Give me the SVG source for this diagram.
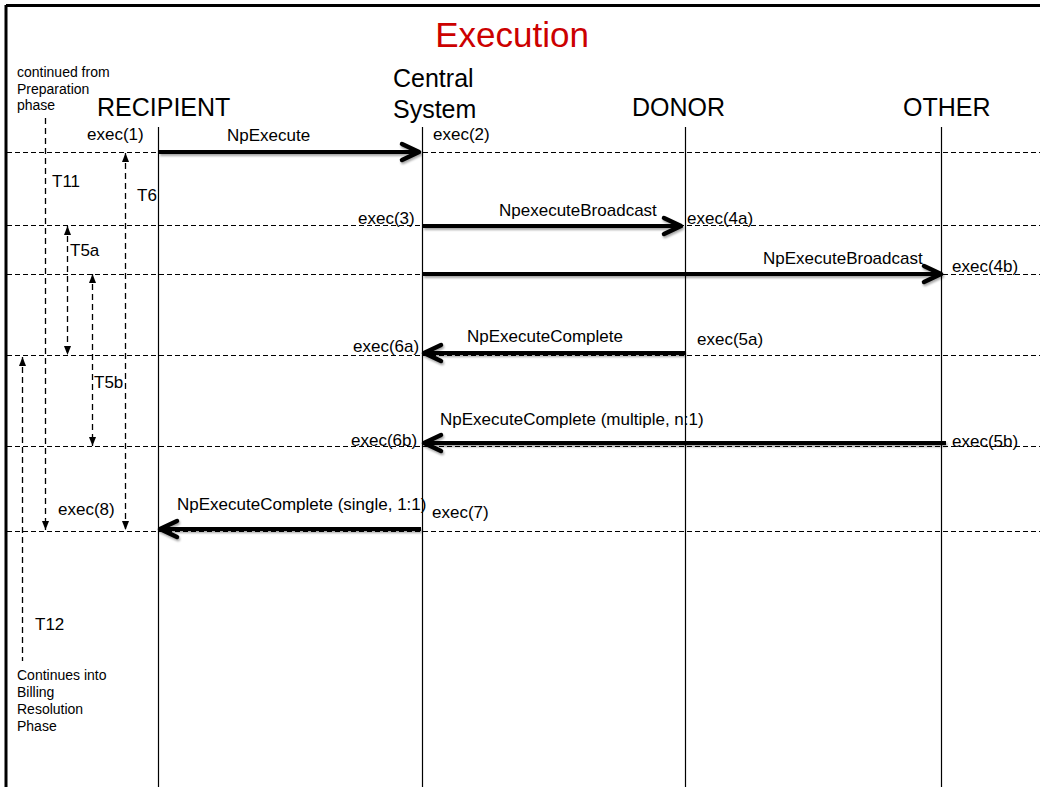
<svg xmlns="http://www.w3.org/2000/svg" width="1040" height="787" viewBox="0 0 1040 787">
<style>
text{font-family:"Liberation Sans",Arial,sans-serif;fill:#000}
.title{font-size:35px;fill:#cc0000}
.actor{font-size:25px}
.lbl{font-size:17px}
.small{font-size:14px}
.life{stroke:#000;stroke-width:1.2;fill:none}
.hdash{stroke:#000;stroke-width:1;stroke-dasharray:5 3;fill:none}
.vdash{stroke:#000;stroke-width:1.3;stroke-dasharray:6 4;fill:none}
.msg{stroke:#000;stroke-width:4;fill:none;marker-end:url(#chev)}
</style>
<defs>
<marker id="chev" markerUnits="userSpaceOnUse" markerWidth="30" markerHeight="30" viewBox="-24 -15 30 30" refX="0" refY="0" orient="auto" overflow="visible">
<path d="M-17,-8 L0,0 L-17,8" fill="none" stroke="#000" stroke-width="4.5" stroke-linecap="round" stroke-linejoin="round"/>
</marker>
<marker id="tri" markerUnits="userSpaceOnUse" markerWidth="12" markerHeight="12" viewBox="-10 -6 12 12" refX="0" refY="0" orient="auto-start-reverse" overflow="visible">
<path d="M-9,-3.5 L0,0 L-9,3.5 Z" fill="#000"/>
</marker>
<filter id="sh" filterUnits="userSpaceOnUse" x="0" y="0" width="1040" height="787">
<feDropShadow dx="1" dy="2" stdDeviation="1.2" flood-color="#000" flood-opacity="0.35"/>
</filter>
</defs>
<rect width="1040" height="787" fill="#fff"/>
<g id="frame">
<line x1="6" y1="5.5" x2="1040" y2="5.5" stroke="#000" stroke-width="3"/>
<line x1="6" y1="5" x2="6" y2="787" stroke="#000" stroke-width="3"/>
</g>
<text class="title" x="512" y="47" text-anchor="middle">Execution</text>
<g id="notes">
<text class="small" x="17" y="77">continued from</text>
<text class="small" x="17" y="94">Preparation</text>
<text class="small" x="17" y="110">phase</text>
<text class="small" x="17" y="680">Continues into</text>
<text class="small" x="17" y="697">Billing</text>
<text class="small" x="17" y="714">Resolution</text>
<text class="small" x="17" y="731">Phase</text>
</g>
<g id="recipient">
<text class="actor" x="97" y="116">RECIPIENT</text>
<line class="life" x1="158.5" y1="127" x2="158.5" y2="787"/>
</g>
<g id="central">
<text class="actor" x="393" y="87">Central</text>
<text class="actor" x="393" y="118">System</text>
<line class="life" x1="422.5" y1="127" x2="422.5" y2="787"/>
</g>
<g id="donor">
<text class="actor" x="632" y="116">DONOR</text>
<line class="life" x1="685.5" y1="127" x2="685.5" y2="787"/>
</g>
<g id="other">
<text class="actor" x="903" y="116">OTHER</text>
<line class="life" x1="941.5" y1="127" x2="941.5" y2="787" stroke-width="2"/>
</g>
<g id="gridlines">
<line class="hdash" x1="7" y1="152.5" x2="1040" y2="152.5"/>
<line class="hdash" x1="7" y1="225.5" x2="1040" y2="225.5"/>
<line class="hdash" x1="7" y1="274.5" x2="1040" y2="274.5"/>
<line class="hdash" x1="7" y1="355.5" x2="1040" y2="355.5"/>
<line class="hdash" x1="7" y1="446.5" x2="1040" y2="446.5"/>
<line class="hdash" x1="7" y1="531.5" x2="1040" y2="531.5"/>
</g>
<g id="connectors">
<g filter="url(#sh)">
<line class="msg" x1="159" y1="152" x2="419" y2="152"/>
<line class="msg" x1="423" y1="226" x2="681" y2="226"/>
<line class="msg" x1="423" y1="274" x2="941" y2="274"/>
<line class="msg" x1="685" y1="353" x2="424" y2="353"/>
<line class="msg" x1="946" y1="443" x2="424" y2="443"/>
<line class="msg" x1="421" y1="529" x2="160" y2="529"/>
</g>
<line class="vdash" x1="45.5" y1="118" x2="45.5" y2="530" marker-end="url(#tri)"/>
<line class="vdash" x1="125.5" y1="153" x2="125.5" y2="530" marker-start="url(#tri)" marker-end="url(#tri)"/>
<line class="vdash" x1="67.5" y1="226" x2="67.5" y2="355" marker-start="url(#tri)" marker-end="url(#tri)"/>
<line class="vdash" x1="92.5" y1="274" x2="92.5" y2="446" marker-start="url(#tri)" marker-end="url(#tri)"/>
<line class="vdash" x1="22.5" y1="357" x2="22.5" y2="661" marker-start="url(#tri)"/>
</g>
<g id="labels">
<text class="lbl" x="227" y="141">NpExecute</text>
<text class="lbl" x="499" y="216">NpexecuteBroadcast</text>
<text class="lbl" x="763" y="264">NpExecuteBroadcast</text>
<text class="lbl" x="467" y="342">NpExecuteComplete</text>
<text class="lbl" x="440" y="425">NpExecuteComplete (multiple, n:1)</text>
<text class="lbl" x="177" y="510">NpExecuteComplete (single, 1:1)</text>
<text class="lbl" x="87" y="140">exec(1)</text>
<text class="lbl" x="433" y="140">exec(2)</text>
<text class="lbl" x="358" y="224">exec(3)</text>
<text class="lbl" x="687" y="224">exec(4a)</text>
<text class="lbl" x="952" y="272">exec(4b)</text>
<text class="lbl" x="697" y="345">exec(5a)</text>
<text class="lbl" x="353" y="352">exec(6a)</text>
<text class="lbl" x="351" y="446">exec(6b)</text>
<text class="lbl" x="952" y="447">exec(5b)</text>
<text class="lbl" x="432" y="518">exec(7)</text>
<text class="lbl" x="58" y="515">exec(8)</text>
<text class="lbl" x="52" y="187">T11</text>
<text class="lbl" x="137" y="201">T6</text>
<text class="lbl" x="70" y="256">T5a</text>
<text class="lbl" x="94" y="388">T5b</text>
<text class="lbl" x="35" y="630">T12</text>
</g>
</svg>
